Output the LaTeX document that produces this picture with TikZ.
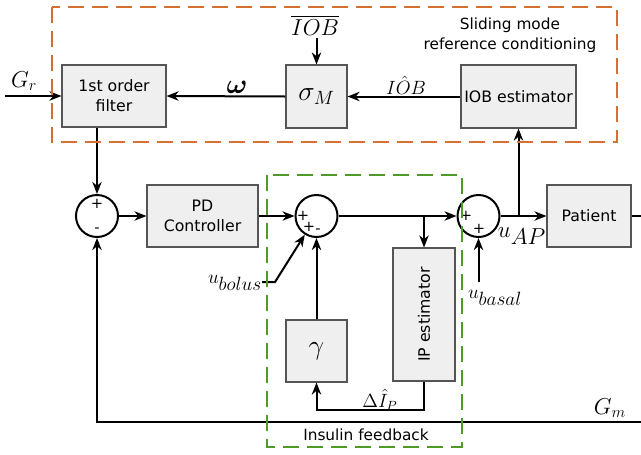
\documentclass[tikz,border=0pt]{standalone}
\usepackage{amsmath}
\usepackage{fontspec}
\setsansfont{DejaVu Sans}
\usetikzlibrary{arrows.meta}
\definecolor{orng}{RGB}{214,112,48}
\definecolor{grn}{RGB}{78,154,42}
\definecolor{boxfill}{RGB}{239,239,239}
\definecolor{boxline}{RGB}{85,85,85}
\begin{document}
\begin{tikzpicture}[x=0.75pt,y=-0.75pt,
  blk/.style={draw=boxline, fill=boxfill, line width=0.8pt, inner sep=0pt,
    font=\sffamily\fontsize{11.8}{15}\selectfont, align=center},
  sumc/.style={circle, draw=black, line width=1.5pt, minimum size=31.5pt, inner sep=0pt},
  conn/.style={line width=1.5pt, -{Stealth[length=9pt,width=7pt,inset=2.8pt]}},
  plain/.style={line width=1.5pt},
  sgn/.style={font=\sffamily\fontsize{11}{11}\selectfont, inner sep=0pt},
  lab/.style={inner sep=0pt, font=\fontsize{16}{16}\selectfont},
  captxt/.style={inner sep=0pt, align=center, font=\sffamily\fontsize{11.5}{15}\selectfont}]
\useasboundingbox (0,0) rectangle (641,454);

% blocks
\node[blk, minimum width=78pt, minimum height=46.5pt] (filt) at (114,96) {1st order\\filter};
\node[blk, minimum width=45.75pt, minimum height=47.25pt] (sig) at (316.5,96.5) {\fontsize{22}{22}\selectfont$\sigma_{M}$};
\node[blk, minimum width=86.25pt, minimum height=47.25pt] (iobe) at (518.5,96.5) {IOB estimator};
\node[sumc] (s1) at (97,216) {};
\node[blk, minimum width=83.25pt, minimum height=46.5pt] (pd) at (202.5,216) {PD\\Controller};
\node[sumc] (s2) at (316.5,216) {};
\node[sumc] (s3) at (478.5,216) {};
\node[blk, minimum width=63pt, minimum height=46.5pt] (pat) at (589,216) {Patient};
\node[blk, minimum width=46.5pt, minimum height=99.75pt] (ip) at (424,314.5) {};
\node[rotate=90, inner sep=0pt, font=\sffamily\fontsize{11.8}{14}\selectfont] (iptxt) at (ip) {IP estimator};
\node[blk, minimum width=45.75pt, minimum height=46.5pt] (gam) at (316.5,351) {\fontsize{22}{22}\selectfont$\gamma$};

% signs
\node[sgn] (p1a) at (97,204) {+};
\node[sgn] (p1b) at (97,230) {-};
\node[sgn] (p2a) at (303,216) {+};
\node[sgn] (p2b) at (309,227) {+};
\node[sgn] (p2c) at (318,231) {-};
\node[sgn] (p3a) at (466,216) {+};
\node[sgn] (p3b) at (479,229) {+};

% free ends
\coordinate (grin) at (5,96);
\coordinate (iobin) at (316.5,38);
\coordinate (patout) at (641,216);
\coordinate (gmR) at (641,422);
\coordinate (gmL) at (97,422);
\coordinate (bol) at (262,282);
\coordinate (bol2) at (275,282);
\coordinate (bas) at (478.5,282);
\coordinate (ipb) at (424,410);
\coordinate (gamb) at (316.5,410);

% connectors
\draw[conn] (grin) -- (filt.west);
\draw[conn] (iobin) -- (sig.north);
\draw[conn] (sig.west) -- (filt.east);
\draw[conn] (iobe.west) -- (sig.east);
\draw[conn] (filt.south -| s1) -- (s1.north);
\draw[conn] (s1.east) -- (pd.west);
\draw[conn] (pd.east) -- (s2.west);
\draw[conn] (s2.east) -- (s3.west);
\draw[conn] (s2.east -| ip.north) -- (ip.north);
\draw[conn] (s3.east) -- (pat.west);
\draw[conn] (s3.east -| iobe.south) -- (iobe.south);
\draw[plain] (pat.east) -- (patout);
\draw[conn] (gmR) -- (gmL) -- (s1.south);
\draw[conn] (bol) -- (bol2) -- (s2);
\draw[conn] (bas) -- (s3.south);
\draw[conn] (gam.north) -- (s2.south);
\draw[conn] (ip.south) -- (ipb) -- (gamb) -- (gam.south);

% labels
\node[lab, font=\fontsize{17}{17}\selectfont] (lgr) at (24,81) {$G_r$};
\node[lab] (liob) at (315,25) {$\overline{IOB}$};
\node[lab, font=\fontsize{20}{20}\selectfont] (lom) at (237,87) {$\boldsymbol{\omega}$};
\node[lab, font=\fontsize{15}{15}\selectfont] (lhat) at (406,85) {$I\hat{O}B$};
\node[lab, font=\fontsize{17}{17}\selectfont] (luap) at (522,236) {$u_{\textstyle AP}$};
\node[lab, font=\fontsize{14.5}{14.5}\selectfont] (lbol) at (235,283) {$u_{\textstyle bolus}$};
\node[lab, font=\fontsize{14.5}{14.5}\selectfont] (lbas) at (495,298) {$u_{\textstyle basal}$};
\node[lab, font=\fontsize{14}{14}\selectfont] (ldi) at (380,400) {$\Delta\hat{I}_P$};
\node[lab, font=\fontsize{17}{17}\selectfont] (lgm) at (610,408) {$G_m$};
\node[captxt] (csm) at (510,35) {Sliding mode\\reference conditioning};
\node[captxt] (cif) at (366,435) {Insulin feedback};

% dashed groups
\draw[orng, line width=2.2pt, dash pattern=on 12pt off 6pt] (52,7) rectangle (617,142);
\draw[grn, line width=2pt, dash pattern=on 12pt off 6pt] (267,175) rectangle (462,447);
\end{tikzpicture}
\end{document}
